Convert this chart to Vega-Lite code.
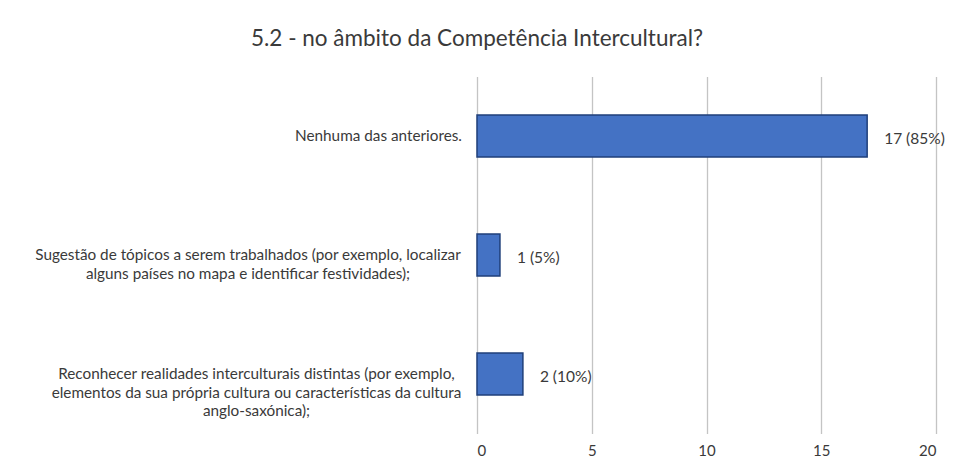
{
  "$schema": "https://vega.github.io/schema/vega-lite/v6.json",
  "autosize": {"type": "none"},
  "width": 459,
  "height": 357,
  "padding": {"left": 477, "top": 76.5, "right": 17, "bottom": 37.5},
  "background": "white",
  "title": {
    "text": "5.2 - no âmbito da Competência Intercultural?",
    "anchor": "middle",
    "dx": -229.5,
    "offset": 26,
    "font": "Lato",
    "fontSize": 22.5,
    "fontWeight": "normal",
    "color": "#3a3a3a"
  },
  "data": {
    "values": [
      {"cat": "Nenhuma das anteriores.", "count": 17, "label": "17 (85%)"},
      {"cat": "Sugestão de tópicos a serem trabalhados (por exemplo, localizar|alguns países no mapa e identificar festividades);", "count": 1, "label": "1 (5%)"},
      {"cat": "Reconhecer realidades interculturais distintas (por exemplo,|elementos da sua própria cultura ou características da cultura|anglo-saxónica);", "count": 2, "label": "2 (10%)"}
    ]
  },
  "encoding": {
    "y": {
      "field": "cat",
      "type": "nominal",
      "sort": null,
      "scale": {"paddingInner": 0.647, "paddingOuter": 0.3235},
      "axis": {
        "title": null,
        "domain": false,
        "ticks": false,
        "labelExpr": "split(datum.label, '|')",
        "labelAlign": "center",
        "labelBaseline": "middle",
        "labelPadding": {
          "condition": [
            {"test": "datum.index < 0.25", "value": 99},
            {"test": "datum.index < 0.75", "value": 229.5}
          ],
          "value": 221
        },
        "labelLimit": 600,
        "labelFont": "Lato",
        "labelFontSize": 15.3,
        "labelColor": "#3a3a3a",
        "labelLineHeight": 18.5,
        "labelOverlap": false
      }
    },
    "x": {
      "field": "count",
      "type": "quantitative",
      "scale": {"domain": [0, 20], "nice": false},
      "axis": {
        "title": null,
        "values": [0, 5, 10, 15, 20],
        "domain": false,
        "ticks": false,
        "grid": true,
        "gridColor": "#c4c4c4",
        "gridWidth": 1.3,
        "labelPadding": 10,
        "labelFont": "Lato",
        "labelFontSize": 15,
        "labelColor": "#3a3a3a"
      }
    }
  },
  "layer": [
    {
      "mark": {"type": "bar", "color": "#4472C4", "stroke": "#1F3F7A", "strokeWidth": 1.5}
    },
    {
      "mark": {"type": "text", "align": "left", "baseline": "middle", "dx": 17, "dy": 3, "font": "Lato", "fontSize": 15.5, "color": "#3a3a3a"},
      "encoding": {"text": {"field": "label"}}
    }
  ],
  "config": {"view": {"stroke": null}}
}
